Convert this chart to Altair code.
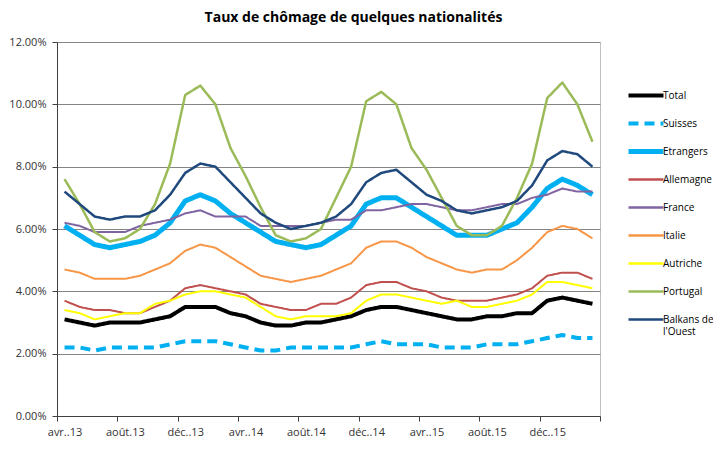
import json
import altair as alt
import pandas as pd

# ---- data (values in %) ----
series_names = ["Total", "Suisses", "Etrangers", "Allemagne", "France",
                "Italie", "Autriche", "Portugal", "Balkans de l'Ouest"]
tick_labels = ["avr..13", "août.13", "déc..13", "avr..14", "août.14",
               "déc..14", "avr..15", "août.15", "déc..15"]

total = [3.1, 3.0, 2.9, 3.0, 3.0, 3.0, 3.1, 3.2, 3.5, 3.5, 3.5, 3.3,
         3.2, 3.0, 2.9, 2.9, 3.0, 3.0, 3.1, 3.2, 3.4, 3.5, 3.5, 3.4,
         3.3, 3.2, 3.1, 3.1, 3.2, 3.2, 3.3, 3.3, 3.7, 3.8, 3.7, 3.6]
suisses = [2.2, 2.2, 2.1, 2.2, 2.2, 2.2, 2.2, 2.3, 2.4, 2.4, 2.4, 2.3,
           2.2, 2.1, 2.1, 2.2, 2.2, 2.2, 2.2, 2.2, 2.3, 2.4, 2.3, 2.3,
           2.3, 2.2, 2.2, 2.2, 2.3, 2.3, 2.3, 2.4, 2.5, 2.6, 2.5, 2.5]
etrangers = [6.1, 5.8, 5.5, 5.4, 5.5, 5.6, 5.8, 6.2, 6.9, 7.1, 6.9, 6.5,
             6.2, 5.9, 5.6, 5.5, 5.4, 5.5, 5.8, 6.1, 6.8, 7.0, 7.0, 6.7,
             6.4, 6.1, 5.8, 5.8, 5.8, 6.0, 6.2, 6.7, 7.3, 7.6, 7.4, 7.1]
allemagne = [3.7, 3.5, 3.4, 3.4, 3.3, 3.3, 3.5, 3.7, 4.1, 4.2, 4.1, 4.0,
             3.9, 3.6, 3.5, 3.4, 3.4, 3.6, 3.6, 3.8, 4.2, 4.3, 4.3, 4.1,
             4.0, 3.8, 3.7, 3.7, 3.7, 3.8, 3.9, 4.1, 4.5, 4.6, 4.6, 4.4]
france = [6.2, 6.1, 5.9, 5.9, 5.9, 6.1, 6.2, 6.3, 6.5, 6.6, 6.4, 6.4,
          6.4, 6.1, 6.1, 6.1, 6.1, 6.2, 6.3, 6.3, 6.6, 6.6, 6.7, 6.8,
          6.8, 6.7, 6.6, 6.6, 6.7, 6.8, 6.8, 7.0, 7.1, 7.3, 7.2, 7.2]
italie = [4.7, 4.6, 4.4, 4.4, 4.4, 4.5, 4.7, 4.9, 5.3, 5.5, 5.4, 5.1,
          4.8, 4.5, 4.4, 4.3, 4.4, 4.5, 4.7, 4.9, 5.4, 5.6, 5.6, 5.4,
          5.1, 4.9, 4.7, 4.6, 4.7, 4.7, 5.0, 5.4, 5.9, 6.1, 6.0, 5.7]
autriche = [3.4, 3.3, 3.1, 3.2, 3.3, 3.3, 3.6, 3.7, 3.9, 4.0, 4.0, 3.9,
            3.8, 3.5, 3.2, 3.1, 3.2, 3.2, 3.2, 3.3, 3.7, 3.9, 3.9, 3.8,
            3.7, 3.6, 3.7, 3.5, 3.5, 3.6, 3.7, 3.9, 4.3, 4.3, 4.2, 4.1]
portugal = [7.6, 6.8, 5.9, 5.6, 5.7, 6.0, 6.8, 8.1, 10.3, 10.6, 10.0, 8.6,
            7.7, 6.7, 5.8, 5.6, 5.7, 6.0, 7.0, 8.0, 10.1, 10.4, 10.0, 8.6,
            7.9, 7.0, 6.1, 5.8, 5.8, 6.1, 7.0, 8.1, 10.2, 10.7, 10.0, 8.8]
balkans = [7.2, 6.8, 6.4, 6.3, 6.4, 6.4, 6.6, 7.1, 7.8, 8.1, 8.0, 7.5,
           7.0, 6.5, 6.2, 6.0, 6.1, 6.2, 6.4, 6.8, 7.5, 7.8, 7.9, 7.5,
           7.1, 6.9, 6.6, 6.5, 6.6, 6.7, 6.9, 7.4, 8.2, 8.5, 8.4, 8.0]

all_values = [total, suisses, etrangers, allemagne, france,
              italie, autriche, portugal, balkans]

# ---- styles ----
colors = ["#000000", "#00B0F0", "#00B0F0", "#C0504D", "#8064A2",
          "#F79646", "#FFFF00", "#9BBB59", "#1F497D"]
widths = [4, 4, 5, 2, 2, 2, 2, 2.5, 2.5]
dashes = [[1, 0], [10, 6], [1, 0], [1, 0], [1, 0], [1, 0], [1, 0], [1, 0], [1, 0]]
FONT = "Open Sans"

rows = []
for name, vals in zip(series_names, all_values):
    for i, v in enumerate(vals):
        rows.append({"series": name, "idx": i + 0.5, "value": v / 100.0})
df = pd.DataFrame(rows)

label_expr = json.dumps(tick_labels) + "[datum.value / 4] || ''"

x_enc = alt.X("idx:Q",
              scale=alt.Scale(domain=[0, 36], nice=False, zero=False),
              axis=alt.Axis(values=list(range(0, 37, 4)), labelExpr=label_expr,
                            labelOffset=7.5, tickSize=5, grid=False, title=None,
                            labelOverlap=False, labelFlush=False,
                            labelPadding=5, domainColor="#404040",
                            tickColor="#404040"))
y_enc = alt.Y("value:Q",
              scale=alt.Scale(domain=[0, 0.12], nice=False),
              axis=alt.Axis(values=[0, 0.02, 0.04, 0.06, 0.08, 0.10, 0.12],
                            format=".2%", tickSize=5, title=None, grid=True,
                            gridColor="#858585", labelPadding=6,
                            domainColor="#404040", tickColor="#404040"))

wide_names = [n for n, w in zip(series_names, widths) if w >= 4]
legend = alt.Legend(
    orient="none", legendX=584, legendY=48.5, title=None, gridAlign="all",
    symbolType="stroke", symbolSize=1225, rowPadding=1, labelOffset=12,
    labelFont=FONT, labelFontSize=10, labelColor="#000000",
    symbolStrokeWidth=alt.ExprRef(
        "datum.value === 'Etrangers' ? 5 : (indexof(" + json.dumps(wide_names) + ", datum.value) >= 0 ? 4 : 2.5)"),
    labelExpr='datum.label === "Balkans de l\'Ouest" ? ["Balkans de", "l\'Ouest"] : [datum.label, " "]',
)

color_enc = alt.Color("series:N", scale=alt.Scale(domain=series_names, range=colors),
                      legend=legend)
dash_enc = alt.StrokeDash("series:N", scale=alt.Scale(domain=series_names, range=dashes),
                          legend=legend)

layers = []
for name, w in zip(series_names, widths):
    layers.append(
        alt.Chart(df).transform_filter(alt.datum.series == name)
        .mark_line(strokeCap="butt", strokeJoin="round")
        .encode(x=x_enc, y=y_enc, color=color_enc, strokeDash=dash_enc,
                strokeWidth=alt.value(w))
    )

chart = alt.layer(*layers).properties(
    width=543, height=374,
    title=alt.TitleParams("Taux de chômage de quelques nationalités",
                          font=FONT, fontSize=14, fontWeight="bold",
                          color="#000000", anchor="middle", dx=25, offset=11),
    autosize=alt.AutoSizeParams(type="none"),
    padding={"left": 49, "top": 34, "right": 113, "bottom": 28},
).configure_view(stroke="#BFBFBF", strokeWidth=1).configure_axis(
    labelFont=FONT, labelFontSize=11, labelColor="#333333"
)

chart.save("out.html", embed_options={"renderer": "svg", "actions": False})
